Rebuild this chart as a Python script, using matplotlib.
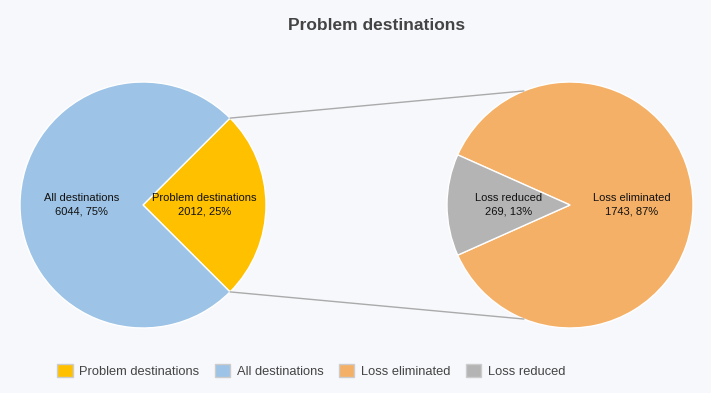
import numpy as np
import matplotlib.pyplot as plt
from matplotlib.patches import ConnectionPatch, Patch

plt.rcParams['font.family'] = ['Liberation Sans', 'DejaVu Sans']

# data
left_labels = ["Problem destinations", "All destinations"]
left_values = [2012, 6044]
right_labels = ["Loss eliminated", "Loss reduced"]
right_values = [1743, 269]

yellow = "#ffc000"
blue = "#9dc3e6"
orange = "#f5b067"
gray = "#b4b4b4"
bg = "#f7f8fc"

fig = plt.figure(figsize=(7.11, 3.93), dpi=100)
fig.patch.set_facecolor(bg)

W, H = 711, 393
r = 123
ax1 = fig.add_axes([(143 - r) / W, (H - 205 - r) / H, 2 * r / W, 2 * r / H])
ax2 = fig.add_axes([(570 - r) / W, (H - 205 - r) / H, 2 * r / W, 2 * r / H])


def draw_pie(ax, values, labels, colors, start):
    wedges, _ = ax.pie(values, colors=colors, startangle=start, counterclock=True,
                       radius=1, wedgeprops=dict(edgecolor="white", linewidth=1))
    total = sum(values)
    for w, v, lab in zip(wedges, values, labels):
        mid = np.deg2rad((w.theta1 + w.theta2) / 2)
        ax.text(0.5 * np.cos(mid), 0.5 * np.sin(mid),
                f"{lab}\n{v}, {round(100 * v / total)}%",
                ha="center", va="center", fontsize=8, color="#111111",
                linespacing=1.4)
    ax.set_xlim(-1, 1)
    ax.set_ylim(-1, 1)
    ax.set_aspect("equal")
    ax.axis("off")
    return wedges


# yellow slice centred on the right side of the left pie
lw = draw_pie(ax1, left_values, left_labels, [yellow, blue],
              -180 * left_values[0] / sum(left_values))
# gray slice centred on the left side of the right pie
rw = draw_pie(ax2, right_values, right_labels, [orange, gray],
              180 + 180 * right_values[1] / sum(right_values))

# connector lines
a1 = np.deg2rad(lw[0].theta2)
a2 = np.deg2rad(112)
for s in (1, -1):
    con = ConnectionPatch(xyA=(np.cos(a1), s * np.sin(a1)), coordsA=ax1.transData,
                          xyB=(np.cos(a2), s * np.sin(a2)), coordsB=ax2.transData,
                          color="#aaaaaa", linewidth=1)
    fig.add_artist(con)

fig.text(377 / W, 1 - 25 / H, "Problem destinations", ha="center", va="center",
         fontsize=12.5, fontweight="bold", color="#444444")

handles = [Patch(facecolor=c, edgecolor="#cccccc", linewidth=1)
           for c in [yellow, blue, orange, gray]]
names = ["Problem destinations", "All destinations", "Loss eliminated", "Loss reduced"]
leg = fig.legend(handles, names, loc="center left", bbox_to_anchor=(57 / W, 1 - 371 / H),
                 ncol=4, frameon=False, fontsize=9.3, handlelength=1.2, handleheight=1.2,
                 handletextpad=0.5, columnspacing=1.2, borderaxespad=0, borderpad=0)
for t in leg.get_texts():
    t.set_color("#444444")

fig.savefig("out.png", dpi=100, facecolor=bg)
